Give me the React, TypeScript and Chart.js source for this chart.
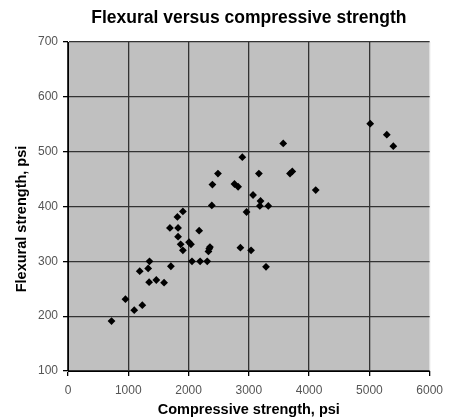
import React, { useEffect, useRef } from "react";
import { Chart, registerables } from "chart.js";

Chart.register(...registerables);

const chartTitle = "Flexural versus compressive strength";
const xAxisTitle = "Compressive strength, psi";
const yAxisTitle = "Flexural strength, psi";

const compressive = [
  722, 953, 1099, 1233, 1190, 1330, 1352, 1346, 1465, 1594,
  1707, 1691, 1826, 1815, 1906, 1826, 1869, 1906, 2008, 2040,
  2176, 2057, 2192, 2310, 2343, 2330, 2355, 2386, 2396, 2488,
  2762, 2822, 2892, 2860, 3037, 2962, 3070, 3167, 3194, 3183,
  3323, 3285, 3571, 3683, 3721, 4110, 5014, 5289, 5397,
];
const flexural = [
  191, 231, 211, 220, 282, 287, 300, 262, 266, 261,
  291, 361, 361, 381, 391, 345, 331, 320, 335, 331,
  356, 300, 300, 300, 323, 318, 326, 402, 440, 460,
  441, 436, 490, 325, 320, 390, 421, 460, 410, 401,
  401, 290, 515, 460, 464, 430, 551, 531, 510,
];

const xMin = 0, xMax = 6000, xStep = 1000;
const yMin = 100, yMax = 700, yStep = 100;

const FONT = "'Liberation Sans', Arial, sans-serif";

const plotBg = {
  id: "plotBg",
  beforeDraw(chart: any) {
    const { ctx, chartArea } = chart;
    ctx.save();
    ctx.fillStyle = "#c0c0c0";
    ctx.fillRect(chartArea.left, chartArea.top, chartArea.right - chartArea.left, chartArea.bottom - chartArea.top);
    ctx.restore();
  },
};

const yTitlePlugin = {
  id: "yTitlePlugin",
  afterDraw(chart: any) {
    const { ctx } = chart;
    ctx.save();
    ctx.translate(22, 219);
    ctx.rotate(-Math.PI / 2);
    ctx.font = "bold 14.5px " + FONT;
    ctx.fillStyle = "#000";
    ctx.textAlign = "center";
    ctx.textBaseline = "middle";
    ctx.fillText(yAxisTitle, 0, 0);
    ctx.restore();
  },
};

export default function App() {
  const ref = useRef<HTMLCanvasElement>(null);
  useEffect(() => {
    if (!ref.current) return;
    const data = compressive.map((x, i) => ({ x, y: flexural[i] }));
    const chart = new Chart(ref.current, {
      type: "scatter",
      data: {
        datasets: [
          {
            data,
            pointStyle: "rectRot",
            pointRadius: 3.9,
            backgroundColor: "#000",
            borderColor: "#000",
            borderWidth: 0,
          },
        ],
      },
      options: {
        animation: false,
        responsive: false,
        layout: { padding: { left: 0, right: 11, top: 0, bottom: 0 } },
        plugins: {
          legend: { display: false },
          tooltip: { enabled: false },
          title: {
            display: true,
            text: chartTitle,
            fullSize: false,
            font: { family: FONT, size: 17.5, weight: "bold" },
            color: "#000",
            padding: { top: 8, bottom: 13 },
          },
        },
        scales: {
          x: {
            type: "linear",
            min: xMin,
            max: xMax,
            afterFit(scale: any) {
              scale.height = 48;
            },
            ticks: {
              stepSize: xStep,
              color: "#555",
              padding: 7,
              maxRotation: 0,
              font: { family: FONT, size: 12 },
              callback: (v: any) => String(v),
            },
            grid: {
              color: (c: any) => (c.tick && c.tick.value === xMax ? "#e0e0e0" : "#333"),
              lineWidth: 1.3,
              tickLength: 5,
              tickColor: "#000",
            },
            border: { color: "#000", width: 1 },
            title: {
              display: true,
              text: xAxisTitle,
              color: "#000",
              font: { family: FONT, size: 14.5, weight: "bold" },
              padding: { top: 0, bottom: 0 },
            },
          },
          y: {
            type: "linear",
            min: yMin,
            max: yMax,
            afterFit(scale: any) {
              scale.width = 68;
            },
            ticks: {
              stepSize: yStep,
              color: "#555",
              padding: 5,
              font: { family: FONT, size: 12 },
              callback: (v: any) => String(v),
            },
            grid: {
              color: "#333",
              lineWidth: 1.3,
              tickLength: 5,
              tickColor: "#000",
            },
            border: { color: "#000", width: 1 },
            title: { display: false },
          },
        },
      },
      plugins: [plotBg, yTitlePlugin],
    });
    return () => chart.destroy();
  }, []);
  return (
    <div style={{ position: "fixed", left: 0, top: 0, width: 450, height: 419, background: "#fff" }}>
      <canvas ref={ref} width={450} height={419} style={{ display: "block", width: 450, height: 419 }} />
    </div>
  );
}
